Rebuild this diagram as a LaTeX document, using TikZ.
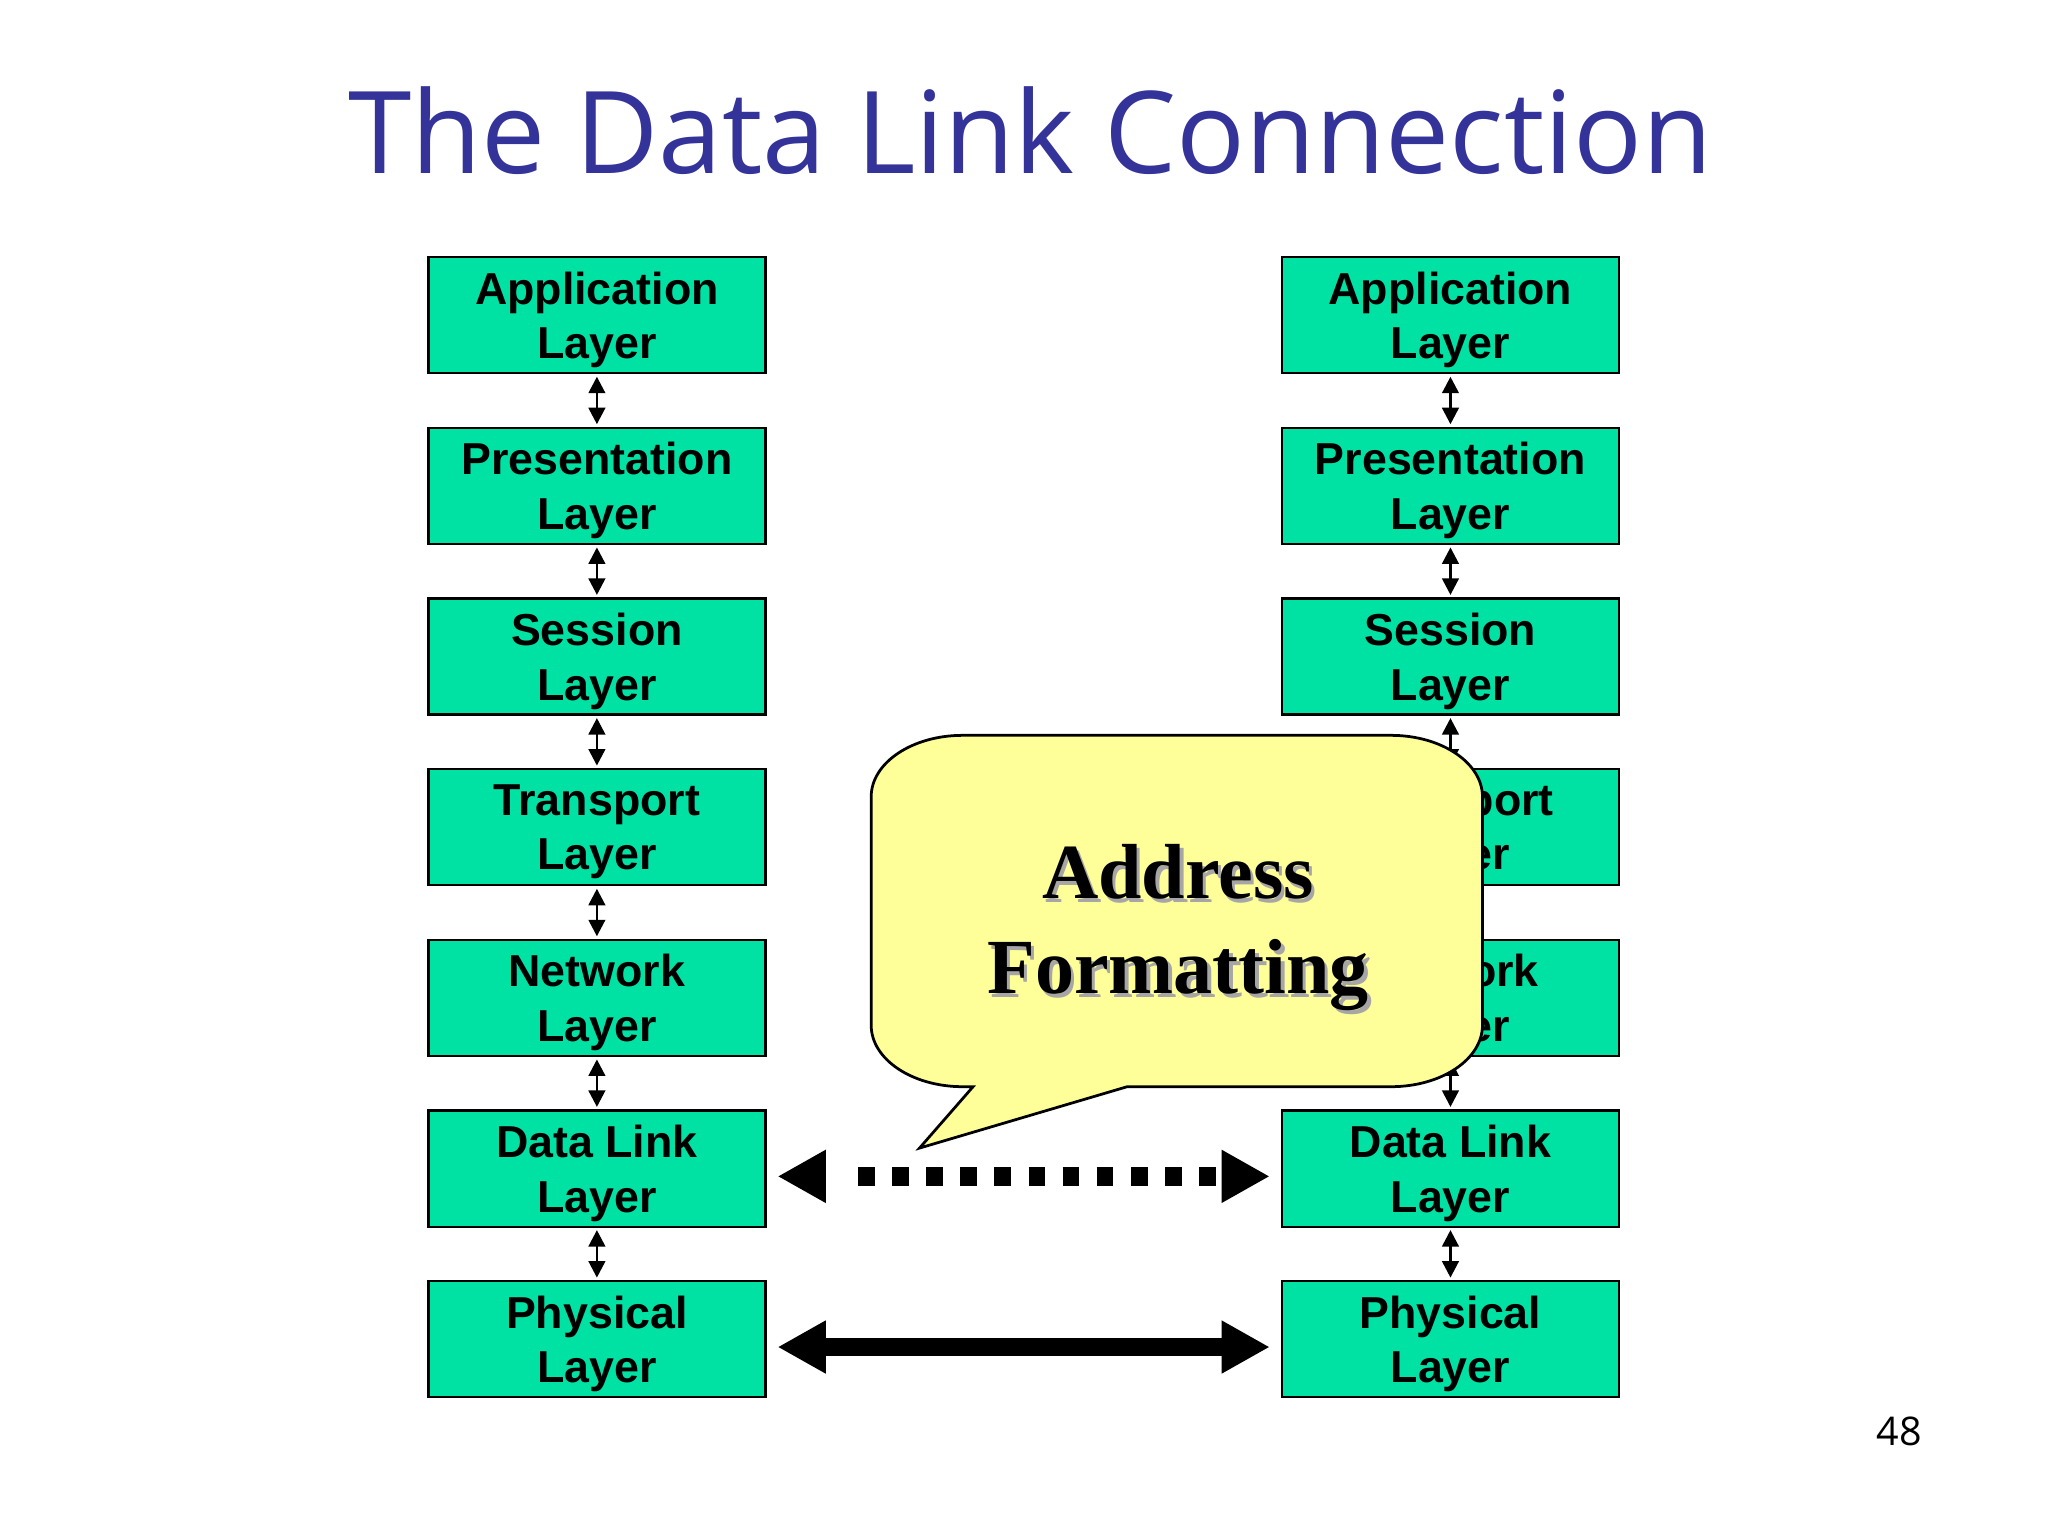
\documentclass[tikz,border=0pt]{standalone}
\usepackage{fontspec}
\usetikzlibrary{arrows.meta}
\newfontfamily\titlefont{Open Sans}
\newfontfamily\layerfont{Liberation Sans}
\newfontfamily\bubblefont{Liberation Serif}
\definecolor{titleblue}{RGB}{51,51,153}
\definecolor{layergreen}{RGB}{0,226,164}
\definecolor{bubbleyellow}{RGB}{255,255,153}
\begin{document}
\begin{tikzpicture}[
        layerbox/.style={draw=black,line width=0.5pt,fill=layergreen,minimum width=2.58cm,minimum height=0.89cm,
            inner sep=0pt,text depth=-2.6pt,align=center,font=\layerfont\bfseries\fontsize{9.75}{11.9}\selectfont},
        updown/.style={line width=0.6pt,{Triangle[width=3.6pt,length=3.6pt]}-{Triangle[width=3.6pt,length=3.6pt]},
            shorten <=0.5pt,shorten >=0.5pt},
        bigarrow/.style={line width=4pt,{Triangle[width=10.8pt,length=10.5pt]}-{Triangle[width=10.8pt,length=10.5pt]},
            shorten <=2.4pt,shorten >=2.4pt},
        bubbletext/.style={align=center,font=\bubblefont\bfseries\fontsize{17}{20.7}\selectfont}
    ]
    \fill[white] (0,0) rectangle (15.68,-11.76);
    \useasboundingbox (0,0) rectangle (15.68,-11.76);

    \node[anchor=base,text=titleblue,font=\titlefont\fontsize{24.9}{28}\selectfont] (title) at (7.89,-1.327) {The Data Link Connection};
    \node[anchor=base east,inner sep=0pt,font=\titlefont\fontsize{8.6}{10}\selectfont] (page) at (14.72,-11.064) {48};

    % the two stacks
    \foreach \name [count=\i] in {Application,Presentation,Session,Transport,Network,Data Link,Physical} {
        \node[layerbox] (L\i) at (4.57,{-2.413-1.3067*(\i-1)}) {\name\\Layer};
        \node[layerbox] (R\i) at (11.105,{-2.413-1.3067*(\i-1)}) {\name\\Layer};
    }
    \foreach \i [evaluate=\i as \j using int(\i+1)] in {1,...,6} {
        \draw[updown] (L\i) -- (L\j);
        \draw[updown] (R\i) -- (R\j);
    }

    % callout
    \draw[fill=bubbleyellow,line width=0.6pt,line join=miter] (7.37,-5.63) -- (10.65,-5.63)
        arc[start angle=90,end angle=0,x radius=0.70,y radius=0.47] -- (11.35,-7.85)
        arc[start angle=0,end angle=-90,x radius=0.70,y radius=0.47] -- (8.63,-8.32) -- (7.04,-8.79) -- (7.45,-8.32) -- (7.37,-8.32)
        arc[start angle=270,end angle=180,x radius=0.70,y radius=0.47] -- (6.67,-6.10)
        arc[start angle=180,end angle=90,x radius=0.70,y radius=0.47] -- cycle;
    \coordinate (bubblec) at (9.02,-7.10);
    \node[bubbletext,text=black!35] at ([xshift=0.025cm,yshift=-0.03cm]bubblec) {Address\\Formatting};
    \node[bubbletext] (addr) at (bubblec) {Address\\Formatting};

    % data link: tips, then the dotted bar
    \draw[bigarrow,dash pattern=on 0pt off 20cm] ([yshift=-0.6mm]L6.east) -- ([yshift=-0.6mm]R6.west);
    \draw[line width=4pt,dash pattern=on 3.63pt off 3.80pt,shorten <=0.70cm,shorten >=0.49cm]
        ([yshift=-0.6mm]L6.east) -- ([yshift=-0.6mm]R6.west);
    \draw[bigarrow] ([yshift=-0.6mm]L7.east) -- ([yshift=-0.6mm]R7.west);
\end{tikzpicture}
\end{document}
